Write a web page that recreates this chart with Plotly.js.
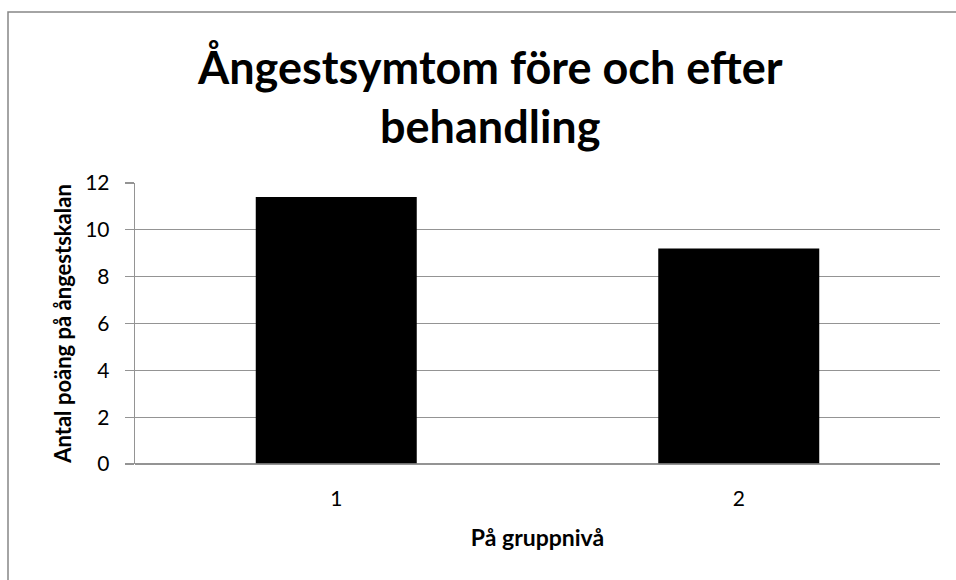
<!DOCTYPE html>
<html>
<head>
<meta charset="utf-8">
<script src="https://cdn.plot.ly/plotly-3.0.1.min.js"></script>
<style>
html,body{margin:0;padding:0;background:#fff;}
#chart{width:956px;height:580px;}
</style>
</head>
<body>
<div id="chart"></div>
<script>
const categories = ["1", "2"];
const values = [11.4, 9.2];
const yTicks = [0, 2, 4, 6, 8, 10, 12];

const chartTitle = "Ångestsymtom före och efter<br>behandling";
const xTitle = "På gruppnivå";
const yTitle = "Antal poäng på ångestskalan";

const FONT = "Lato, 'Liberation Sans', sans-serif";

const W = 956, H = 580, ML = 135, MR = 16, MT = 183, MB = 116;
const PW = W - ML - MR, PH = H - MT - MB;

const trace = {
  type: "bar",
  x: categories,
  y: values,
  marker: {color: "#000000", line: {width: 0}},
  hoverinfo: "none"
};

const layout = {
  width: W,
  height: H,
  paper_bgcolor: "#ffffff",
  plot_bgcolor: "#ffffff",
  margin: {l: ML, r: MR, t: MT, b: MB},
  showlegend: false,
  bargap: 0.6,
  font: {family: FONT, color: "#000"},
  xaxis: {
    type: "category",
    showgrid: false,
    showline: false,
    zeroline: false,
    ticks: "",
    tickfont: {family: FONT, size: 21, color: "#000"},
    ticklabelstandoff: 20,
    title: {text: xTitle, font: {family: FONT, size: 23, color: "#000", weight: "bold"}, standoff: 20},
    automargin: false
  },
  yaxis: {
    range: [0, 12],
    tickvals: yTicks,
    ticktext: yTicks.map(String),
    showgrid: true,
    gridcolor: "#949494",
    gridwidth: 1.3,
    showline: true,
    linecolor: "#949494",
    linewidth: 1.3,
    zeroline: true,
    zerolinecolor: "#949494",
    zerolinewidth: 1.3,
    ticks: "outside",
    ticklen: 9,
    tickcolor: "#949494",
    tickwidth: 1.3,
    tickfont: {family: FONT, size: 21, color: "#000"},
    ticklabelstandoff: 11,
    title: {text: yTitle, font: {family: FONT, size: 22, color: "#000", weight: "bold"}, standoff: 7},
    automargin: false
  },
  annotations: [{
    text: chartTitle,
    xref: "paper", yref: "paper",
    x: (490 - ML) / PW, xanchor: "center",
    y: (H - MB - 38) / PH, yanchor: "top",
    showarrow: false,
    align: "center",
    font: {family: FONT, size: 45, color: "#000", weight: "bold"}
  }],
  shapes: [
    {type: "line", xref: "paper", yref: "paper", x0: 0, x1: 1, y0: 0, y1: 0,
     line: {color: "#949494", width: 1.3}},
    {type: "rect", xref: "paper", yref: "paper",
     x0: (8 - ML) / PW, x1: (W + 10 - ML) / PW,
     y0: (MB - H - 10) / PH, y1: (H - 12 - MB) / PH,
     line: {color: "#868686", width: 1.5}, fillcolor: "rgba(0,0,0,0)", layer: "below"}
  ]
};

Plotly.newPlot("chart", [trace], layout, {displayModeBar: false, staticPlot: true});
</script>
</body>
</html>
